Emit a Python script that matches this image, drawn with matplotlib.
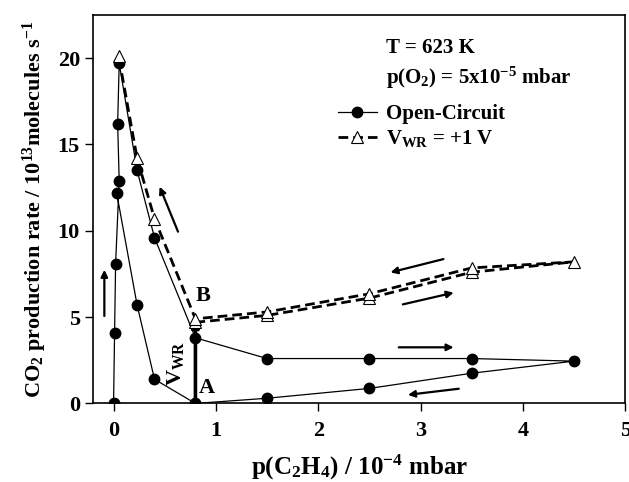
import numpy as np
import matplotlib
matplotlib.use("Agg")
import matplotlib.pyplot as plt

plt.rcParams["font.family"] = "Liberation Serif"
plt.rcParams["font.weight"] = "bold"
plt.rcParams["axes.labelweight"] = "bold"
plt.rcParams["mathtext.fontset"] = "custom"
plt.rcParams["mathtext.rm"] = "Liberation Serif:bold"
plt.rcParams["mathtext.it"] = "Liberation Serif:bold"
plt.rcParams["mathtext.bf"] = "Liberation Serif:bold"
plt.rcParams["mathtext.default"] = "bf"

### DATA ###
# open circuit loop (order follows the measurement path)
p_oc = [0.0, 0.01, 0.02, 0.055, 0.04, 0.055, 0.23, 0.4, 0.8, 1.5, 2.5, 3.5, 4.5,
        3.5, 2.5, 1.5, 0.8, 0.4, 0.23, 0.03]
r_oc = [0.0, 4.1, 8.1, 12.9, 16.2, 19.7, 13.5, 9.6, 3.8, 2.6, 2.6, 2.6, 2.45,
        1.75, 0.87, 0.3, 0.0, 1.4, 5.7, 12.2]

# V_WR = +1 V loop
p_v = [0.8, 1.5, 2.5, 3.5, 4.5, 3.5, 2.5, 1.5, 0.8, 0.4, 0.23, 0.05]
r_v = [4.7, 5.1, 6.1, 7.6, 8.2, 7.85, 6.35, 5.3, 4.9, 10.7, 14.2, 20.1]

# direction arrows (start -> end)
arrows = [
    ((-0.09, 4.9), (-0.09, 7.9)),
    ((0.64, 9.8), (0.44, 12.7)),
    ((3.25, 8.4), (2.68, 7.55)),
    ((2.8, 5.7), (3.35, 6.45)),
    ((2.76, 3.25), (3.35, 3.25)),
    ((3.40, 0.87), (2.85, 0.48)),
]

fig = plt.figure(figsize=(6.29, 4.82), dpi=100)
ax = fig.add_axes([0.148, 0.163, 0.846, 0.806])

ax.plot(p_oc, r_oc, "-o", color="k", lw=0.9, ms=7.5, label="Open-Circuit", zorder=3)
ax.plot(p_v, r_v, "--^", color="k", lw=2, ms=9, mfc="white", mec="k", mew=0.8,
        dashes=(3.5, 1.8), label=r"V$_{\rm WR}$ = +1 V", zorder=4)

for start, end in arrows:
    ax.annotate("", xy=end, xytext=start,
                arrowprops=dict(arrowstyle="-|>", lw=1.6, color="k", mutation_scale=10))

# thick V_WR step A -> B
ax.annotate("", xy=(0.8, 5.0), xytext=(0.8, 0.0),
            arrowprops=dict(arrowstyle="-|>", lw=2.6, color="k", mutation_scale=10), zorder=2)

ax.text(0.915, 0.87, "A", fontsize=16, ha="center", va="center")
ax.text(0.87, 6.2, "B", fontsize=16, ha="center", va="center")
ax.text(0.61, 2.3, r"V$_{\rm WR}$", fontsize=16, rotation=90, ha="center", va="center")

ax.text(2.66, 20.3, "T = 623 K", fontsize=15)
ax.text(2.66, 18.5, r"p(O$_2$) = 5x10$^{-5}$ mbar", fontsize=15)

ax.legend(loc="upper left", bbox_to_anchor=(0.44, 0.798), frameon=False, fontsize=15,
          handlelength=1.9, handletextpad=0.4, labelspacing=0.2, numpoints=1,
          borderpad=0)

ax.set_xlim(-0.2, 5)
ax.set_ylim(0, 22.5)
ax.set_xticks([0, 1, 2, 3, 4, 5])
ax.set_yticks([0, 5, 10, 15, 20])
ax.tick_params(direction="out", length=6, width=1, labelsize=16, top=False, right=False)
ax.tick_params(axis="x", pad=7)
for s in ax.spines.values():
    s.set_linewidth(1.2)

ax.set_xlabel(r"p(C$_2$H$_4$) / 10$^{-4}$ mbar", fontsize=18, labelpad=8)
ax.set_ylabel(r"CO$_2$ production rate / 10$^{13}$molecules s$^{-1}$", fontsize=16, labelpad=6)

plt.savefig("out.png", dpi=100)
